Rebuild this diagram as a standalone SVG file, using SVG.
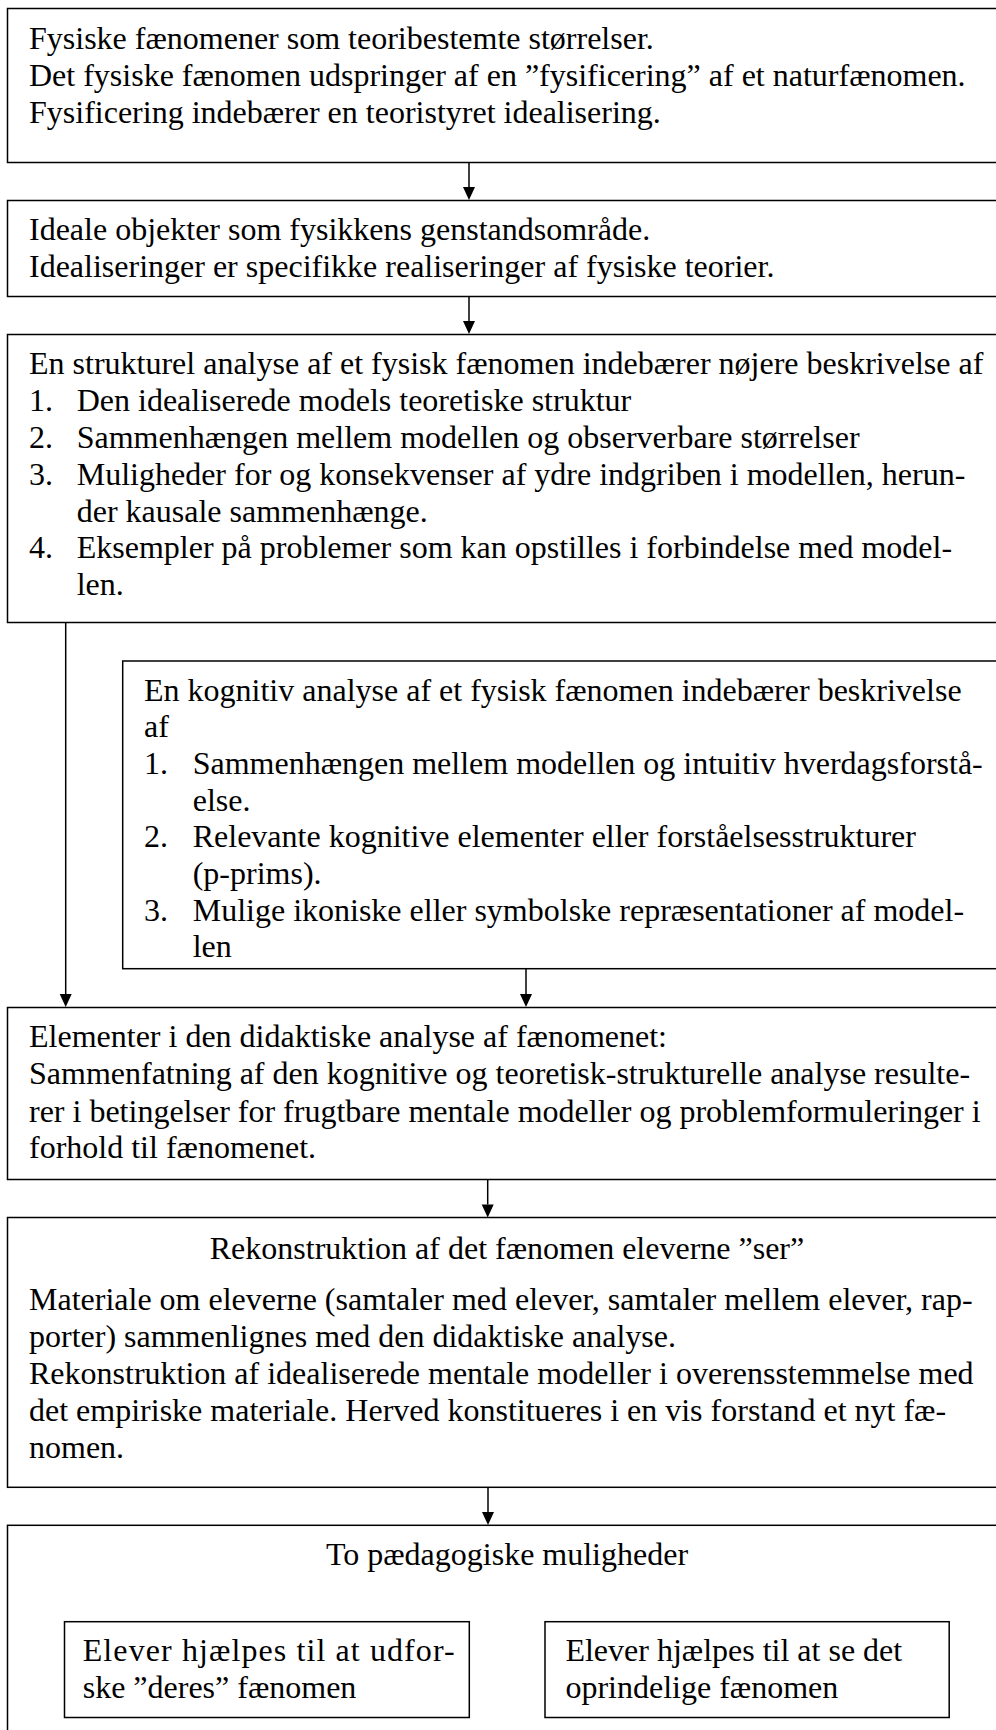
<svg xmlns="http://www.w3.org/2000/svg" width="996" height="1730" viewBox="0 0 996 1730">
<defs>
<style>
.box{fill:#fff;stroke:#000;stroke-width:1.5}
text{font-family:"Liberation Serif","Times New Roman",serif;font-size:32px;fill:#000}
.c{text-anchor:middle}
.ln{fill:none;stroke:#000;stroke-width:1.5}
</style>
<marker id="ah" markerWidth="12" markerHeight="13" refX="6" refY="13" orient="auto" markerUnits="userSpaceOnUse" viewBox="0 0 12 13">
<path d="M0,0 L12,0 L6,13 Z" fill="#000" transform="rotate(0)"/>
</marker>
</defs>
<rect width="996" height="1730" fill="#fff"/>
<g id="connectors">
<path class="ln" d="M469,162.5 V187"/><path d="M463,187 H475 L469,200 Z"/>
<path class="ln" d="M469,296.5 V321"/><path d="M463,321 H475 L469,334 Z"/>
<path class="ln" d="M65.7,622.5 V994"/><path d="M59.7,994 H71.7 L65.7,1007 Z"/>
<path class="ln" d="M526,968.7 V994"/><path d="M520,994 H532 L526,1007 Z"/>
<path class="ln" d="M487.7,1179.5 V1204.5"/><path d="M481.7,1204.5 H493.7 L487.7,1217.5 Z"/>
<path class="ln" d="M488,1487.3 V1512"/><path d="M482,1512 H494 L488,1525 Z"/>
</g>
<g id="n1">
<rect class="box" x="7.5" y="8.5" width="1000" height="154"/>
<text x="29" y="49">Fysiske fænomener som teoribestemte størrelser.</text>
<text x="29" y="86">Det fysiske fænomen udspringer af en ”fysificering” af et naturfænomen.</text>
<text x="29" y="123">Fysificering indebærer en teoristyret idealisering.</text>
</g>
<g id="n2">
<rect class="box" x="7.5" y="200.5" width="1000" height="96"/>
<text x="29" y="240">Ideale objekter som fysikkens genstandsområde.</text>
<text x="29" y="277">Idealiseringer er specifikke realiseringer af fysiske teorier.</text>
</g>
<g id="n3">
<rect class="box" x="7.5" y="334.5" width="1000" height="288"/>
<text x="29" y="374">En strukturel analyse af et fysisk fænomen indebærer nøjere beskrivelse af</text>
<text x="29" y="411">1.</text><text x="76.7" y="411">Den idealiserede models teoretiske struktur</text>
<text x="29" y="448">2.</text><text x="76.7" y="448">Sammenhængen mellem modellen og observerbare størrelser</text>
<text x="29" y="485">3.</text><text x="76.7" y="485">Muligheder for og konsekvenser af ydre indgriben i modellen, herun-</text>
<text x="76.7" y="521.5">der kausale sammenhænge.</text>
<text x="29" y="558">4.</text><text x="76.7" y="558">Eksempler på problemer som kan opstilles i forbindelse med model-</text>
<text x="76.7" y="595">len.</text>
</g>
<g id="n4">
<rect class="box" x="122.7" y="661" width="900" height="307.7"/>
<text x="144" y="700.7">En kognitiv analyse af et fysisk fænomen indebærer beskrivelse</text>
<text x="144" y="737">af</text>
<text x="144" y="774">1.</text><text x="192.7" y="774">Sammenhængen mellem modellen og intuitiv hverdagsforstå-</text>
<text x="192.7" y="810.5">else.</text>
<text x="144" y="847">2.</text><text x="192.7" y="847">Relevante kognitive elementer eller forståelsesstrukturer</text>
<text x="192.7" y="883.5">(p-prims).</text>
<text x="144" y="920.5">3.</text><text x="192.7" y="920.5">Mulige ikoniske eller symbolske repræsentationer af model-</text>
<text x="192.7" y="957">len</text>
</g>
<g id="n5">
<rect class="box" x="7.5" y="1007.5" width="1000" height="172"/>
<text x="29" y="1046.7">Elementer i den didaktiske analyse af fænomenet:</text>
<text x="29" y="1083.5">Sammenfatning af den kognitive og teoretisk-strukturelle analyse resulte-</text>
<text x="29" y="1121.5">rer i betingelser for frugtbare mentale modeller og problemformuleringer i</text>
<text x="29" y="1158">forhold til fænomenet.</text>
</g>
<g id="n6">
<rect class="box" x="7.5" y="1217.5" width="1000" height="269.8"/>
<text class="c" x="507" y="1258.5">Rekonstruktion af det fænomen eleverne ”ser”</text>
<text x="29" y="1310">Materiale om eleverne (samtaler med elever, samtaler mellem elever, rap-</text>
<text x="29" y="1347">porter) sammenlignes med den didaktiske analyse.</text>
<text x="29" y="1384">Rekonstruktion af idealiserede mentale modeller i overensstemmelse med</text>
<text x="29" y="1421">det empiriske materiale. Herved konstitueres i en vis forstand et nyt fæ-</text>
<text x="29" y="1458">nomen.</text>
</g>
<g id="n7">
<rect class="box" x="7.5" y="1525.3" width="1000" height="240"/>
<text class="c" x="507" y="1565">To pædagogiske muligheder</text>
</g>
<g id="n7a">
<rect class="box" x="64.5" y="1621.7" width="404.8" height="95.8"/>
<text x="82.7" y="1661" textLength="372" lengthAdjust="spacing">Elever hjælpes til at udfor-</text>
<text x="82.7" y="1698.3">ske ”deres” fænomen</text>
</g>
<g id="n7b">
<rect class="box" x="545" y="1621.7" width="404.2" height="95.8"/>
<text x="565.4" y="1661">Elever hjælpes til at se det</text>
<text x="565.4" y="1698.3">oprindelige fænomen</text>
</g>
</svg>
